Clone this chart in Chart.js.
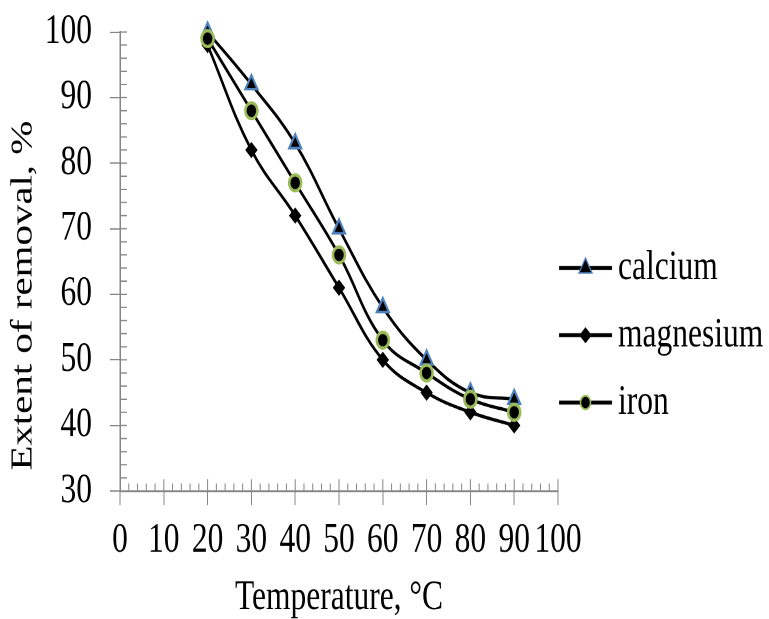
<!DOCTYPE html>
<html><head><meta charset="utf-8">
<script src="https://cdn.jsdelivr.net/npm/chart.js@4"></script>
<style>
html{margin:0;padding:0;background:#fff;overflow:hidden;}
body{margin:0;padding:0;background:#fff;width:769px;height:619px;}
#wrap{width:769px;height:469px;transform:scaleY(1.3198);transform-origin:0 0;}
canvas{display:block;}
</style></head><body>
<div id="wrap"><canvas id="c" width="769" height="469"></canvas></div>
<script>
// ---- data ----
const temperatures = [20, 30, 40, 50, 60, 70, 80, 90];
const calcium   = [100, 92, 83, 70, 58, 50, 45, 44];
const magnesium = [98, 82, 72, 61, 50, 45, 42, 40];
const iron      = [99, 88, 77, 66, 53, 48, 44, 42];
const seriesNames = ['calcium', 'magnesium', 'iron'];
const xTickMin = 0, xTickMax = 100, xTickStep = 10;
const yTickMin = 30, yTickMax = 100, yTickStep = 10;
const minorPerMajor = 5;
const xTitle = 'Temperature, °C';
const yTitle = 'Extent of removal, %';

// ---- styles ----
const FONT = '"Liberation Serif", "Times New Roman", Times, serif';
const AXIS = '#868686';
const seriesValues = [calcium, magnesium, iron];
const markerStyles = [
  {ps: 'triangle', r: 7,   bg: '#000', border: '#4F81BD', bw: 2},
  {ps: 'rectRot',  r: 5.5, bg: '#000', border: '#000',    bw: 1},
  {ps: 'circle',   r: 6,   bg: '#000', border: '#9BBB59', bw: 2.5}
];
const legendMarkers = [
  {ps: 'triangle', r: 7.5, bg: '#000', border: '#4F81BD', bw: 1.2},
  {ps: 'rectRot',  r: 5.5, bg: '#000', border: '#000',    bw: 1},
  {ps: 'circle',   r: 5,   bg: '#000', border: '#9BBB59', bw: 1.5}
];
const drawOrder = [2, 1, 0];

function makeIcon(m) {
  const w = 62, h = 20, S = 3;
  const c = document.createElement('canvas');
  c.width = w * S; c.height = h * S;
  const ctx = c.getContext('2d');
  ctx.scale(S, S);
  ctx.strokeStyle = '#000'; ctx.lineWidth = 3;
  ctx.beginPath(); ctx.moveTo(0.125, h / 2); ctx.lineTo(53.125, h / 2); ctx.stroke();
  ctx.fillStyle = m.bg; ctx.strokeStyle = m.border; ctx.lineWidth = m.bw;
  Chart.helpers.drawPoint(ctx, {pointStyle: m.ps, radius: m.r, rotation: 0, borderWidth: m.bw}, 26.625, h / 2);
  const img = new Image();
  img.src = c.toDataURL();
  return img.decode().then(() => { img.width = w; img.height = h; return img; });
}

const innerTicks = {
  id: 'innerTicks',
  beforeDatasetsDraw(chart) {
    const {ctx, chartArea: {left, bottom}, scales: {x, y}} = chart;
    ctx.save();
    ctx.strokeStyle = AXIS; ctx.lineWidth = 1;
    ctx.beginPath();
    const xMinor = xTickStep / minorPerMajor;
    const nx = Math.round((xTickMax - xTickMin) / xMinor);
    for (let k = 0; k <= nx; k++) {
      const px = x.getPixelForValue(xTickMin + k * xMinor);
      const len = (k % minorPerMajor === 0) ? 8.9 : 5.8;
      ctx.moveTo(px, bottom); ctx.lineTo(px, bottom - len);
    }
    const yMinor = yTickStep / minorPerMajor;
    const ny = Math.round((yTickMax - yTickMin) / yMinor);
    for (let k = 0; k <= ny; k++) {
      const py = y.getPixelForValue(yTickMin + k * yMinor);
      ctx.moveTo(left, py); ctx.lineTo(left + 7, py);
    }
    ctx.stroke();
    ctx.restore();
  }
};

Promise.all(legendMarkers.map(makeIcon)).then(icons => {
  const datasets = seriesNames.map((name, i) => ({
    label: name,
    data: temperatures.map((t, j) => ({x: t, y: seriesValues[i][j]})),
    borderColor: '#000', borderWidth: 2.5, tension: 0.4, fill: false, clip: false,
    pointStyle: markerStyles[i].ps,
    pointRadius: markerStyles[i].r, pointHoverRadius: markerStyles[i].r,
    pointBackgroundColor: markerStyles[i].bg,
    pointBorderColor: markerStyles[i].border,
    pointBorderWidth: markerStyles[i].bw, pointHoverBorderWidth: markerStyles[i].bw,
    order: drawOrder[i]
  }));

  const chart = new Chart(document.getElementById('c'), {
    type: 'line',
    data: {datasets},
    plugins: [innerTicks],
    options: {
      responsive: false,
      animation: false,
      devicePixelRatio: 2,
      events: [],
      layout: {padding: {left: 0, top: 24.25, bottom: 0, right: 0}},
      plugins: {
        tooltip: {enabled: false},
        legend: {
          position: 'right',
          align: 'center',
          maxWidth: 211,
          title: {display: true, text: '', font: {size: 10, lineHeight: 1.2}, padding: {top: 0, bottom: 2.75}},
          labels: {
            usePointStyle: true,
            pointStyleWidth: 24.75,
            padding: 19.5,
            color: '#000',
            font: {family: FONT, size: 31.5},
            generateLabels: () => seriesNames.map((n, i) => ({
              text: n, pointStyle: icons[i], rotation: 0,
              fillStyle: '#000', strokeStyle: '#000', lineWidth: 0,
              fontColor: '#000', hidden: false, datasetIndex: i
            }))
          }
        }
      },
      scales: {
        x: {
          type: 'linear', min: xTickMin, max: xTickMax,
          afterFit: s => { s.height = 97; },
          grid: {drawOnChartArea: false, drawTicks: true, tickLength: 10.6, color: AXIS, lineWidth: 1},
          border: {display: true, color: AXIS, width: 1.5},
          ticks: {stepSize: xTickStep, autoSkip: false, maxRotation: 0, minRotation: 0,
                  color: '#000', padding: 8.1, font: {family: FONT, size: 31.5}},
          title: {display: true, text: xTitle, color: '#000',
                  font: {family: FONT, size: 31.5, lineHeight: 1}, padding: 0}
        },
        y: {
          type: 'linear', min: yTickMin, max: yTickMax,
          afterFit: s => { s.width = 120; },
          grid: {drawOnChartArea: false, drawTicks: true, tickLength: 10, color: AXIS, lineWidth: 1},
          border: {display: true, color: AXIS, width: 1.5},
          ticks: {stepSize: yTickStep, autoSkip: false, color: '#000', padding: 18,
                  font: {family: FONT, size: 31.5, lineHeight: 0.2}},
          title: {display: true, text: '  ' + yTitle, align: 'start', color: '#000',
                  font: {family: FONT, size: 31, lineHeight: 1}, padding: {top: 7.75, bottom: 0}}
        }
      }
    }
  });

  const targetRight = 558;
  const diff = chart.chartArea.right - targetRight;
  if (Math.abs(diff) > 0.05) {
    chart.options.layout.padding.right += diff;
    chart.update('none');
  }
});
</script>
</body></html>
